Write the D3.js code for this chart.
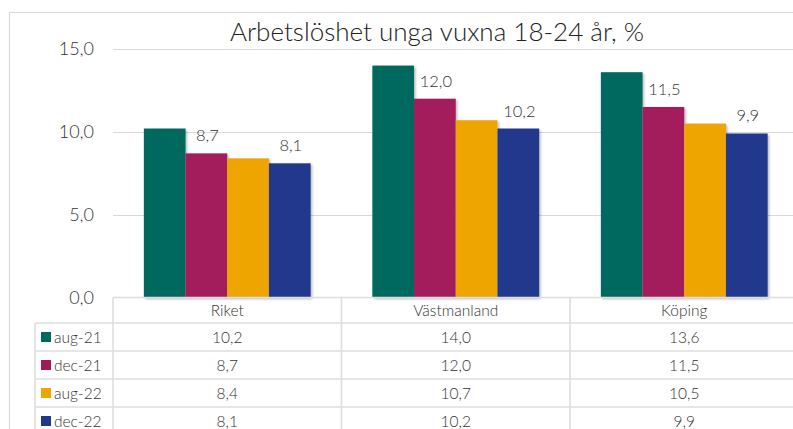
<!DOCTYPE html>
<html>
<head>
<meta charset="utf-8">
<script src="https://cdn.jsdelivr.net/npm/d3@7"></script>
<style>
  body { margin: 0; background: #fff; overflow: hidden; }
  svg { display: block; font-family: Lato, "Open Sans", sans-serif; font-weight: 300; }
</style>
</head>
<body>
<script>
// Data
var categories = ["Riket", "Västmanland", "Köping"];
var seriesNames = ["aug-21", "dec-21", "aug-22", "dec-22"];
var aug21 = [10.2, 14.0, 13.6];
var dec21 = [8.7, 12.0, 11.5];
var aug22 = [8.4, 10.7, 10.5];
var dec22 = [8.1, 10.2, 9.9];
var yTicks = [0, 5, 10, 15];
var labelled = ["dec-21", "dec-22"];
var title = "Arbetslöshet unga vuxna 18-24 år, %";

var values = [aug21, dec21, aug22, dec22];
var colors = ["#00695f", "#a31a5b", "#eea500", "#21398d"];
var textColor = "#333333";

var W = 793, H = 429;
var plotLeft = 113, plotRight = 798.5, plotTop = 49, plotBottom = 297.5;
var fmt = function(v) { return d3.format(".1f")(v).replace(".", ","); };

var svg = d3.select("body").append("svg")
  .attr("width", W)
  .attr("height", H);

svg.append("defs").append("filter")
  .attr("id", "shadow")
  .attr("x", "-20%").attr("y", "-20%")
  .attr("width", "140%").attr("height", "140%")
  .append("feDropShadow")
  .attr("dx", 1.5).attr("dy", 1.5)
  .attr("stdDeviation", 1.2)
  .attr("flood-color", "#000")
  .attr("flood-opacity", 0.28);

// chart frame (cropped on the right)
svg.append("path")
  .attr("d", "M9.5," + H + "V12.5H" + W)
  .attr("fill", "none")
  .attr("stroke", "#d9d9d9")
  .attr("stroke-width", 1.2);

// title
svg.append("text")
  .attr("x", 437)
  .attr("y", 41)
  .attr("text-anchor", "middle")
  .attr("font-size", 26)
  .attr("fill", "#222")
  .text(title);

// scales
var xScale = d3.scaleBand().domain(categories).range([plotLeft, plotRight]);
var xInner = d3.scaleBand().domain(seriesNames).range([0, xScale.bandwidth()]).paddingOuter(0.74);
var yScale = d3.scaleLinear().domain([0, 15]).range([plotBottom, plotTop]);

// gridlines
svg.append("g")
  .selectAll("line")
  .data(yTicks.filter(function(d) { return d > 0; }))
  .enter()
  .append("line")
  .attr("x1", plotLeft)
  .attr("x2", W)
  .attr("y1", function(d) { return Math.round(yScale(d)) + 0.5; })
  .attr("y2", function(d) { return Math.round(yScale(d)) + 0.5; })
  .attr("stroke", "#d9d9d9")
  .attr("stroke-width", 1.2);

// y axis
var yAxis = d3.axisLeft(yScale)
  .tickValues(yTicks)
  .tickSize(0)
  .tickPadding(0)
  .tickFormat(fmt);
var yAxisGroup = svg.append("g")
  .attr("transform", "translate(94,0)")
  .call(yAxis);
yAxisGroup.select(".domain").remove();
yAxisGroup.selectAll("text")
  .attr("font-family", "Lato, sans-serif")
  .attr("font-weight", 300)
  .attr("font-size", 18)
  .attr("fill", textColor);

// bars
var groups = svg.append("g")
  .selectAll("g")
  .data(seriesNames)
  .enter()
  .append("g")
  .attr("fill", function(d, i) { return colors[i]; });

groups.selectAll("rect")
  .data(function(s, i) {
    return categories.map(function(c, j) { return {cat: c, series: s, value: values[i][j]}; });
  })
  .enter()
  .append("rect")
  .attr("filter", "url(#shadow)")
  .attr("x", function(d) { return xScale(d.cat) + xInner(d.series); })
  .attr("width", xInner.bandwidth())
  .attr("y", function(d) { return yScale(d.value); })
  .attr("height", function(d) { return plotBottom - yScale(d.value); });

// data labels
groups.filter(function(s) { return labelled.indexOf(s) >= 0; })
  .selectAll("text")
  .data(function(s, i) {
    var k = seriesNames.indexOf(s);
    return categories.map(function(c, j) { return {cat: c, series: s, value: values[k][j]}; });
  })
  .enter()
  .append("text")
  .attr("x", function(d) { return xScale(d.cat) + xInner(d.series) + xInner.bandwidth() / 2 + 1; })
  .attr("y", function(d) { return yScale(d.value) - 12; })
  .attr("text-anchor", "middle")
  .attr("font-size", 16.5)
  .attr("fill", textColor)
  .text(function(d) { return fmt(d.value); });

// data table
var headH = 25.5, rowH = 28;
var tableTop = plotBottom;
var legendLeft = 35;
var rowY = function(i) { return tableTop + headH + i * rowH; };
var table = svg.append("g")
  .attr("stroke", "#dedede")
  .attr("stroke-width", 1.6)
  .attr("fill", "none");

table.append("line")
  .attr("x1", plotLeft).attr("x2", W)
  .attr("y1", tableTop).attr("y2", tableTop);
table.selectAll(".row")
  .data(seriesNames)
  .enter()
  .append("line")
  .attr("x1", legendLeft).attr("x2", W)
  .attr("y1", function(d, i) { return rowY(i); })
  .attr("y2", function(d, i) { return rowY(i); });
table.append("line")
  .attr("x1", legendLeft).attr("x2", W)
  .attr("y1", rowY(4)).attr("y2", rowY(4));
table.append("line")
  .attr("x1", legendLeft).attr("x2", legendLeft)
  .attr("y1", rowY(0)).attr("y2", H);
table.selectAll(".col")
  .data(categories)
  .enter()
  .append("line")
  .attr("x1", function(d) { return xScale(d); })
  .attr("x2", function(d) { return xScale(d); })
  .attr("y1", tableTop).attr("y2", H);

// header texts
svg.append("g")
  .selectAll("text")
  .data(categories)
  .enter()
  .append("text")
  .attr("x", function(d) { return xScale(d) + xScale.bandwidth() / 2; })
  .attr("y", tableTop + 18.5)
  .attr("text-anchor", "middle")
  .attr("font-size", 15.5)
  .attr("fill", textColor)
  .text(function(d) { return d; });

// legend keys + row labels
var legendRows = svg.append("g")
  .selectAll("g")
  .data(seriesNames)
  .enter()
  .append("g")
  .attr("transform", function(d, i) { return "translate(0," + rowY(i) + ")"; });
legendRows.append("rect")
  .attr("x", 41)
  .attr("y", 9)
  .attr("width", 10)
  .attr("height", 10)
  .attr("fill", function(d, i) { return colors[i]; });
legendRows.append("text")
  .attr("x", 54)
  .attr("y", 20)
  .attr("font-size", 15.5)
  .attr("fill", textColor)
  .text(function(d) { return d; });

// table values
legendRows.selectAll(".val")
  .data(function(s, i) { return values[i]; })
  .enter()
  .append("text")
  .attr("x", function(d, j) { return xScale(categories[j]) + xScale.bandwidth() / 2; })
  .attr("y", 20)
  .attr("text-anchor", "middle")
  .attr("font-size", 15.5)
  .attr("fill", textColor)
  .text(function(d) { return fmt(d); });
</script>
</body>
</html>
